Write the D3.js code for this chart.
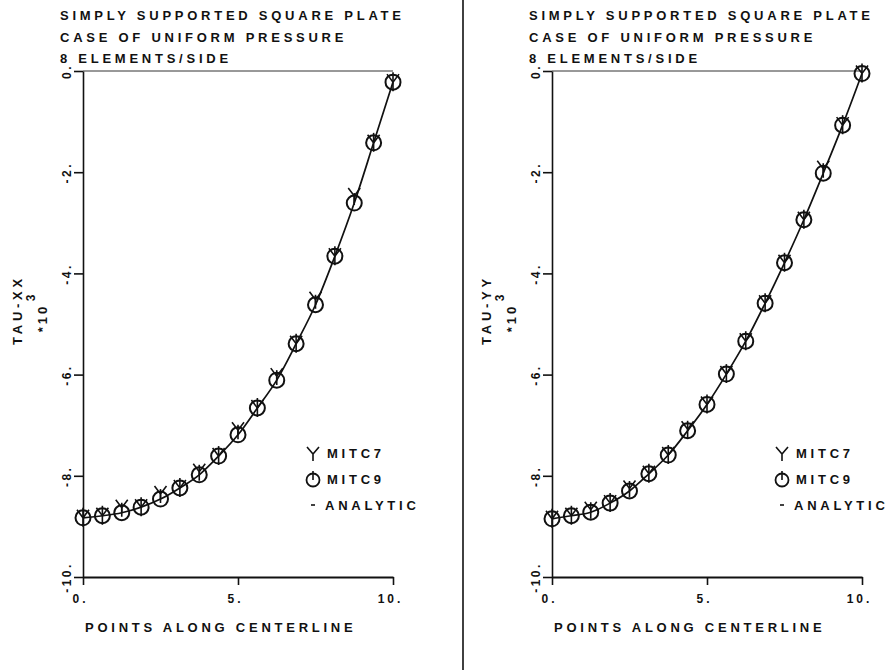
<!DOCTYPE html>
<html>
<head>
<meta charset="utf-8">
<title>plate</title>
<style>
  body { margin: 0; background: #fff; }
  text { font-family: "Liberation Sans", Arial, sans-serif; font-weight: bold; fill: #111; }
</style>
<script src="https://d3js.org/d3.v7.min.js"></script>
</head>
<body>
<svg width="888" height="670"></svg>
<script>
// chart data
var titleLines = ["SIMPLY SUPPORTED SQUARE PLATE", "CASE OF UNIFORM PRESSURE", "8 ELEMENTS/SIDE"];
var xPoints = [0, 0.625, 1.25, 1.875, 2.5, 3.125, 3.75, 4.375, 5, 5.625, 6.25, 6.875, 7.5, 8.125, 8.75, 9.375, 10];
var xTicks = [0, 5, 10];
var yTicks = [0, -2, -4, -6, -8, -10];
var legendNames = ["MITC7", "MITC9", "ANALYTIC"];

var tauXX_analytic = [-8.83, -8.79, -8.73, -8.62, -8.46, -8.24, -7.98, -7.61, -7.19, -6.66, -6.11, -5.39, -4.62, -3.66, -2.61, -1.42, -0.22];
var tauXX_mitc9    = [-8.83, -8.79, -8.73, -8.62, -8.46, -8.24, -7.98, -7.61, -7.19, -6.66, -6.11, -5.39, -4.62, -3.66, -2.61, -1.42, -0.22];
var tauXX_mitc7    = [-8.83, -8.79, -8.63, -8.62, -8.36, -8.24, -7.92, -7.61, -7.10, -6.66, -6.03, -5.39, -4.52, -3.66, -2.47, -1.42, -0.22];

var tauYY_analytic = [-8.85, -8.79, -8.72, -8.54, -8.30, -7.96, -7.59, -7.11, -6.59, -5.99, -5.34, -4.59, -3.79, -2.94, -2.02, -1.07, -0.05];
var tauYY_mitc9    = [-8.85, -8.79, -8.72, -8.54, -8.30, -7.96, -7.59, -7.11, -6.59, -5.99, -5.34, -4.59, -3.79, -2.94, -2.02, -1.07, -0.05];
var tauYY_mitc7    = [-8.85, -8.79, -8.67, -8.54, -8.25, -7.96, -7.59, -7.08, -6.59, -5.99, -5.34, -4.59, -3.79, -2.94, -1.93, -1.07, -0.05];

var svg = d3.select("svg");
var ls = "3.75px";

// divider between the two plots
svg.append("line")
   .attr("x1", 463).attr("x2", 463).attr("y1", 0).attr("y2", 670)
   .attr("stroke", "#111").attr("stroke-width", 1.6);

function drawPanel(left, yName, analytic, mitc9, mitc7) {
    var x = d3.scaleLinear().domain([0, 10]).range([left, left + 310]),
        y = d3.scaleLinear().domain([-10, 0]).range([577, 71]);

    var g = svg.append("g");

    // titles
    titleLines.forEach(function(t, i) {
        g.append("text")
         .attr("x", left - 23).attr("y", [20, 42, 63][i])
         .style("font-size", "13px").style("letter-spacing", ls)
         .text(t);
    });

    // top frame line
    g.append("line")
     .attr("x1", x(0)).attr("x2", x(10)).attr("y1", y(0)).attr("y2", y(0))
     .attr("stroke", "#333").attr("stroke-width", 1);

    var ya = g.append("g")
        .attr("transform", "translate(" + left + ",0)")
        .call(d3.axisLeft(y).tickValues(yTicks).tickSize(9).tickSizeOuter(0)
              .tickFormat(function(d) { return d + "."; }));
    ya.select(".domain").attr("stroke", "#111").attr("stroke-width", 1.6);
    ya.selectAll(".tick line").attr("stroke", "#111").attr("stroke-width", 1.6);
    ya.selectAll(".tick text")
      .attr("transform", "rotate(-90)")
      .attr("x", 0).attr("y", -12).attr("dy", 0)
      .attr("text-anchor", "middle")
      .style("font-size", "12px").style("letter-spacing", "2.5px")
      .attr("font-family", null).attr("fill", "#111");

    var xa = g.append("g")
        .attr("transform", "translate(0," + y(-10) + ")")
        .call(d3.axisBottom(x).tickValues(xTicks).tickSize(8).tickSizeOuter(0)
              .tickFormat(function(d) { return d + "."; }));
    xa.select(".domain").attr("stroke", "#111").attr("stroke-width", 2);
    xa.selectAll(".tick line").attr("stroke", "#111").attr("stroke-width", 1.6);
    xa.selectAll(".tick text")
      .attr("x", -3).attr("y", 26).attr("dy", 0)
      .style("font-size", "12px").style("letter-spacing", "3px")
      .attr("font-family", null).attr("fill", "#111");

    // axis titles
    g.append("text")
     .attr("x", left + 2).attr("y", 632)
     .style("font-size", "13px").style("letter-spacing", ls)
     .text("POINTS ALONG CENTERLINE");

    g.append("text")
     .attr("transform", "translate(" + (left - 61) + ",310) rotate(-90)")
     .attr("text-anchor", "middle")
     .style("font-size", "13px").style("letter-spacing", ls)
     .text(yName);
    g.append("text")
     .attr("transform", "translate(" + (left - 36) + ",318) rotate(-90)")
     .attr("text-anchor", "middle")
     .style("font-size", "13px").style("letter-spacing", "3px")
     .text("*10");
    g.append("text")
     .attr("transform", "translate(" + (left - 48) + ",298) rotate(-90)")
     .attr("text-anchor", "middle")
     .style("font-size", "12px")
     .text("3");

    // analytic curve
    var line = d3.line()
        .x(function(d, i) { return x(xPoints[i]); })
        .y(function(d) { return y(d); })
        .curve(d3.curveMonotoneX);
    g.append("path")
     .datum(analytic)
     .attr("d", line)
     .attr("fill", "none").attr("stroke", "#111").attr("stroke-width", 1.7);

    // MITC9 markers
    var m9 = g.selectAll(".m9").data(mitc9).enter().append("g")
        .attr("class", "m9")
        .attr("transform", function(d, i) { return "translate(" + x(xPoints[i]) + "," + y(d) + ")"; });
    m9.append("circle").attr("r", 7.5)
      .attr("fill", "none").attr("stroke", "#111").attr("stroke-width", 2);
    m9.append("line").attr("x1", 0).attr("x2", 0).attr("y1", -10).attr("y2", 0)
      .attr("stroke", "#111").attr("stroke-width", 1.6);

    // MITC7 markers
    g.selectAll(".m7").data(mitc7).enter().append("path")
     .attr("class", "m7")
     .attr("transform", function(d, i) { return "translate(" + x(xPoints[i]) + "," + y(d) + ")"; })
     .attr("d", "M-6,-8L0,0L6,-8M0,0L0,9")
     .attr("fill", "none").attr("stroke", "#111").attr("stroke-width", 1.6);

    // legend
    var lx = left + 230, rows = [453, 479, 505];
    g.append("path")
     .attr("transform", "translate(" + lx + "," + (rows[0] + 1) + ")")
     .attr("d", "M-6,-7L0,0L6,-7M0,0L0,7")
     .attr("fill", "none").attr("stroke", "#111").attr("stroke-width", 1.6);
    g.append("circle").attr("cx", lx).attr("cy", rows[1] + 1).attr("r", 6.5)
     .attr("fill", "none").attr("stroke", "#111").attr("stroke-width", 1.8);
    g.append("line").attr("x1", lx).attr("x2", lx).attr("y1", rows[1] - 8).attr("y2", rows[1] + 1)
     .attr("stroke", "#111").attr("stroke-width", 1.6);
    g.append("line").attr("x1", lx - 2).attr("x2", lx + 2).attr("y1", rows[2]).attr("y2", rows[2])
     .attr("stroke", "#111").attr("stroke-width", 1.6);
    legendNames.forEach(function(n, i) {
        g.append("text")
         .attr("x", lx + (i == 2 ? 12 : 14)).attr("y", rows[i] + 5)
         .style("font-size", "13px").style("letter-spacing", ls)
         .text(n);
    });
}

drawPanel(83, "TAU-XX", tauXX_analytic, tauXX_mitc9, tauXX_mitc7);
drawPanel(552, "TAU-YY", tauYY_analytic, tauYY_mitc9, tauYY_mitc7);
</script>
</body>
</html>
